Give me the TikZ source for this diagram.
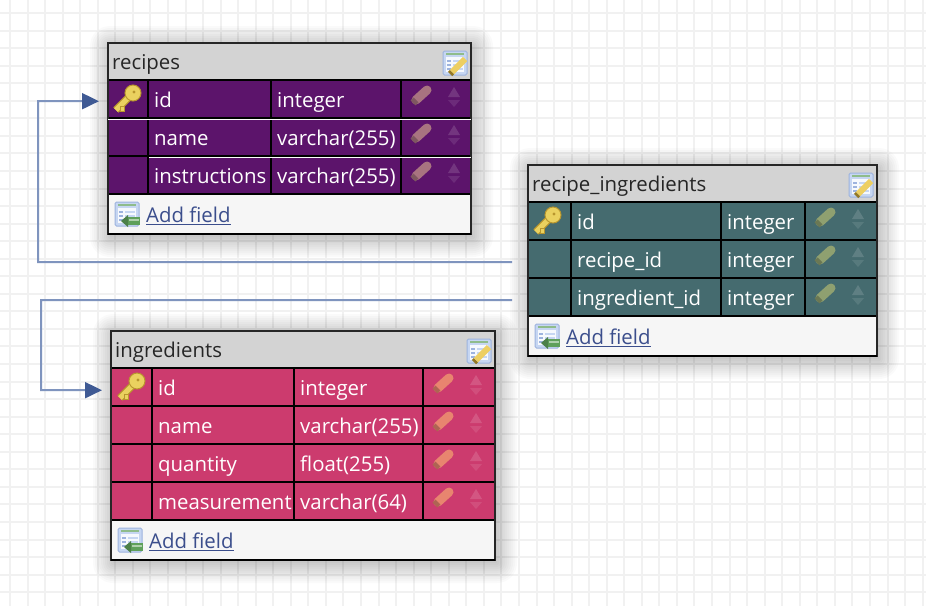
\documentclass[tikz,border=0pt]{standalone}
\usepackage{fontspec}
\setmainfont{Open Sans}
\usetikzlibrary{arrows.meta}

\definecolor{gridgray}{HTML}{F1F1F1}
\definecolor{headgray}{HTML}{D3D3D3}
\definecolor{footgray}{HTML}{F6F6F6}
\definecolor{fkline}{HTML}{7F94BE}
\definecolor{fktip}{HTML}{3F5A94}
\definecolor{linkblue}{HTML}{3B4E8C}
\definecolor{rowpurple}{HTML}{5C146B}
\definecolor{rowteal}{HTML}{456B6F}
\definecolor{rowpink}{HTML}{CC3B6E}
\definecolor{penpurple}{HTML}{A87480}
\definecolor{penteal}{HTML}{8FA070}
\definecolor{penpink}{HTML}{E8856F}
\definecolor{keygold}{HTML}{EAD15F}
\definecolor{keyedge}{HTML}{B8962E}
\definecolor{iconblue}{HTML}{C6D6F2}
\definecolor{iconedge}{HTML}{9DB3DE}
\definecolor{icongreen}{HTML}{5FA05A}
\definecolor{pencilgold}{HTML}{EDCF62}

\tikzset{
  gridline/.style={gridgray, line width=2pt},
  rowline/.style={black, line width=2pt},
  celltext/.style={anchor=base west, inner sep=0pt, text=white, font=\fontsize{20.4}{24}\selectfont},
  titletext/.style={anchor=base west, inner sep=0pt, text=black!85, font=\fontsize{20.4}{24}\selectfont},
  linktext/.style={anchor=base west, inner sep=0pt, text=linkblue, font=\fontsize{20.4}{24}\selectfont},
  keycell/.style={anchor=north west, inner sep=0pt},
  fklink/.style={fkline, line width=2pt, -{Triangle[length=17pt,width=16pt,color=fktip]}},
  keyicon/.pic={
    \draw[keyedge, line width=7.5pt] (-11,11) -- (4,-4);
    \draw[keygold, line width=5pt] (-11,11) -- (4,-4);
    \fill[keygold, draw=keyedge, line width=1pt] (6,-6) circle (8);
    \fill[keyedge] (7,-7) circle (1.6);
    \fill[keygold, draw=keyedge, line width=.6pt] (-7,7) rectangle (-3,12);
  },
  penicon/.pic={
    \draw[#1, line width=9pt, line cap=round] (-5,5) -- (6,-5);
    \draw[#1!75!black, line width=7pt] (-8,8) -- (-5,5);
  },
  updown/.pic={
    \fill[white, opacity=.14] (-6,5) -- (6,5) -- (0,-5) -- cycle;
    \fill[white, opacity=.10] (-6,8) -- (6,8) -- (0,15) -- cycle;
  },
  tabbase/.pic={
    \fill[iconblue, draw=iconedge, line width=1pt, rounded corners=1.5pt] (-12,-12) rectangle (12,12);
    \fill[white!85!iconblue] (-9,-6) rectangle (9,9);
    \fill[icongreen!70!white] (-9,-10) rectangle (9,-8);
    \foreach \r in {-3,1,5} {\fill[iconedge] (-8,\r) rectangle (-4,\r+2); \fill[iconblue] (-2,\r) rectangle (8,\r+2);}
  },
  editicon/.pic={
    \pic at (0,0) {tabbase};
    \draw[keyedge!80!black, line width=6pt] (-5,11) -- (-3,9);
    \draw[pencilgold, line width=6pt] (-3,9) -- (10,-4);
  },
  addicon/.pic={
    \pic at (0,0) {tabbase};
    \fill[icongreen] (0,3) rectangle (13,11);
    \fill[icongreen!80!black] (-6,7) -- (1,1) -- (1,13) -- cycle;
    \fill[icongreen!50!white] (2,5) rectangle (12,6.5);
  },
}

% Column positions of the next table
\newcommand{\setcols}[5]{\def\colA{#1}\def\colB{#2}\def\colC{#3}\def\colD{#4}\def\colE{#5}}

% Tag, title, row colour, pencil colour, top, number of rows, rows
\newcommand{\dbtable}[7]{
  \pgfmathsetmacro\yhead{#5+37}
  \pgfmathsetmacro\yfoot{\yhead+#6*38}
  \pgfmathsetmacro\ybot{\yfoot+40}
  \pgfmathsetmacro\wkey{\colB-\colA}
  % Shadow
  \foreach \s in {20,18,...,0}
    \fill[black, opacity=.018, rounded corners=\s pt] (\colA-\s+2,#5-\s+3) rectangle (\colE+\s+2,\ybot+\s+3);
  % Header and footer
  \fill[headgray] (\colA,#5) rectangle (\colE,\yhead);
  \fill[footgray] (\colA,\yfoot) rectangle (\colE,\ybot);
  \node[titletext] (#1-title) at (\colA+4,#5+26) {#2};
  \pic at (\colE-16,#5+20) {editicon};
  % Rows
  \foreach \name/\type [count=\i] in {#7} {
    \pgfmathsetmacro\yrow{\yhead+(\i-1)*38}
    \fill[#3] (\colA,\yrow) rectangle (\colE,\yrow+38);
    \node[keycell, minimum width=\wkey pt, minimum height=38pt] (#1-key\i) at (\colA,\yrow) {};
    \node[celltext] (#1-name\i) at (\colB+6,\yrow+27) {\name};
    \node[celltext] (#1-type\i) at (\colC+6,\yrow+27) {\type};
    \pic at (\colD+20,\yrow+15) {penicon=pen#4};
    \pic at (\colD+53,\yrow+12) {updown};
    \draw[rowline] (\colA,\yrow) -- (\colE,\yrow);
    \draw[rowline] (\colB,\yrow) -- (\colB,\yrow+38) (\colC,\yrow) -- (\colC,\yrow+38) (\colD,\yrow) -- (\colD,\yrow+38);
  }
  \draw[rowline] (\colA,\yfoot) -- (\colE,\yfoot);
  % Add field
  \pic at (\colA+19,\yfoot+20) {addicon};
  \node[linktext] (#1-add) at (\colA+38,\yfoot+28.5) {\underline{Add field}};
  % Frame
  \draw[black!85, line width=1.3pt] (\colA,#5) rectangle (\colE,\ybot);
  \draw[black, line width=2pt] (\colA,\ybot) -- (\colE,\ybot);
}

\begin{document}
\begin{tikzpicture}[x=1pt,y=-1pt]
\useasboundingbox (0,0) rectangle (926,606);
% Background grid
\fill[white] (0,0) rectangle (926,606);
\foreach \k in {0,...,52}
  \draw[gridline] ({10+\k*17.55},0) -- ({10+\k*17.55},606);
\foreach \k in {0,...,34}
  \draw[gridline] (0,{13+\k*17.55}) -- (926,{13+\k*17.55});
% Connectors get their ends from the tables, so the tables come first
\setcols{528}{571}{721}{805}{877}
\dbtable{links}{recipe\_ingredients}{rowteal}{teal}{165}{3}{id/integer,recipe\_id/integer,ingredient\_id/integer}
\pic at (547,221) {keyicon};
\setcols{108}{148}{271}{401}{471}
\dbtable{recipes}{recipes}{rowpurple}{purple}{43}{3}{id/integer,name/varchar(255),instructions/varchar(255)}
\pic at (127,99) {keyicon};
\draw[white, line width=.8pt] (108,119.4) -- (471,119.4) (149,157.4) -- (471,157.4);
\setcols{111}{152}{294}{423}{495}
\dbtable{ingredients}{ingredients}{rowpink}{pink}{331}{4}{id/integer,name/varchar(255),quantity/float(255),measurement/varchar(64)}
\pic at (131,387) {keyicon};
% Connectors
\coordinate (recipe-out) at ([shift={(-16pt,-3pt)}]links-key2.west);
\coordinate (ingredient-out) at ([shift={(-16pt,-3pt)}]links-key3.west);
\coordinate (recipe-in) at ([shift={(-9pt,-2pt)}]recipes-key1.west);
\coordinate (ingredient-in) at ([shift={(-9pt,-3pt)}]ingredients-key1.west);
\coordinate (recipe-bend) at (38,262);
\coordinate (ingredient-bend) at (41,300);
\draw[fklink] (recipe-out) -- (recipe-bend) |- (recipe-in);
\draw[fklink] (ingredient-out) -- (ingredient-bend) |- (ingredient-in);
\end{tikzpicture}
\end{document}
